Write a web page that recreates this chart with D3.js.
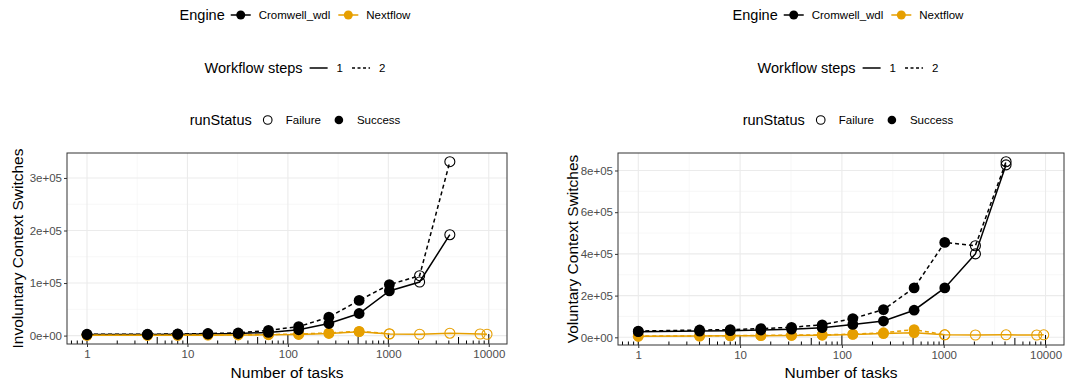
<!DOCTYPE html>
<html>
<head>
<meta charset="utf-8">
<script src="https://cdn.jsdelivr.net/npm/d3@7"></script>
<style>
  body { margin: 0; background: #fff; }
  svg { font-family: "Liberation Sans", Arial, sans-serif; }
</style>
</head>
<body>
<div id="chart"></div>
<script>
// x values (number of tasks)
const cromwellTasks = [1, 4, 8, 16, 32, 64, 128, 256, 512, 1024, 2048, 4096];
const cromwellStatus = ["Success", "Success", "Success", "Success", "Success", "Success", "Success", "Success", "Success", "Success", "Failure", "Failure"];
const nextflowTasks1 = [1, 4, 8, 16, 32, 64, 128, 256, 512, 1024, 2048, 4096, 8192, 9600];
const nextflowStatus1 = ["Success", "Success", "Success", "Success", "Success", "Success", "Success", "Success", "Success", "Failure", "Failure", "Failure", "Failure", "Failure"];
const nextflowTasks2 = [1, 4, 8, 16, 32, 64, 128, 256, 512, 1024];
const nextflowStatus2 = ["Success", "Success", "Success", "Success", "Success", "Success", "Success", "Success", "Success", "Failure"];

// involuntary context switches
const invCromwell1 = [2000, 2000, 2500, 3000, 4000, 6000, 11000, 23000, 42000, 85000, 102000, 192000];
const invCromwell2 = [2500, 2500, 3000, 4000, 5000, 10000, 17000, 35000, 67000, 97000, 114000, 331000];
const invNextflow1 = [500, 500, 500, 800, 1000, 1500, 2000, 4000, 7500, 3000, 2500, 4500, 3000, 2500];
const invNextflow2 = [800, 800, 900, 1200, 1500, 2000, 3000, 5000, 8000, 3500];

// voluntary context switches
const volCromwell1 = [27000, 30000, 32000, 35000, 39000, 46000, 62000, 78000, 130000, 237000, 400000, 827000];
const volCromwell2 = [30000, 35000, 37000, 42000, 48000, 60000, 90000, 133000, 237000, 455000, 439000, 842000];
const volNextflow1 = [5000, 6000, 7000, 8000, 9000, 10000, 14000, 18000, 22000, 12000, 11000, 12000, 11000, 12000];
const volNextflow2 = [6000, 7000, 8000, 9000, 10000, 12000, 15000, 22000, 37000, 12000];

const engines = ["Cromwell_wdl", "Nextflow"];
const stepLevels = ["1", "2"];
const statusLevels = ["Failure", "Success"];
const engineColor = d3.scaleOrdinal(engines, ["#000000", "#E69F00"]);

const xTicks = [1, 10, 100, 1000, 10000];
const invTicks = [0, 100000, 200000, 300000];
const volTicks = [0, 200000, 400000, 600000, 800000];

function series(engine, steps, xs, ys, st) {
  return { engine, steps, points: xs.map((x, i) => ({ x, y: ys[i], status: st[i] })) };
}

const invSeries = [
  series("Cromwell_wdl", "1", cromwellTasks, invCromwell1, cromwellStatus),
  series("Cromwell_wdl", "2", cromwellTasks, invCromwell2, cromwellStatus),
  series("Nextflow", "1", nextflowTasks1, invNextflow1, nextflowStatus1),
  series("Nextflow", "2", nextflowTasks2, invNextflow2, nextflowStatus2),
];
const volSeries = [
  series("Cromwell_wdl", "1", cromwellTasks, volCromwell1, cromwellStatus),
  series("Cromwell_wdl", "2", cromwellTasks, volCromwell2, cromwellStatus),
  series("Nextflow", "1", nextflowTasks1, volNextflow1, nextflowStatus1),
  series("Nextflow", "2", nextflowTasks2, volNextflow2, nextflowStatus2),
];

const W = 1074, H = 383;
const svg = d3.select("#chart").append("svg").attr("width", W).attr("height", H);

function sciFormat(v) {
  if (v === 0) return "0e+00";
  const [m, e] = v.toExponential(0).split("e");
  const n = +e;
  return m + "e" + (n < 0 ? "-" : "+") + String(Math.abs(n)).padStart(2, "0");
}

function expand(lo, hi) {
  const r = hi - lo;
  return [lo - 0.05 * r, hi + 0.05 * r];
}

function drawPanel(opts) {
  const { left, right, top, bottom, data, yTicks, yTitle, yTitleX } = opts;
  const g = svg.append("g");

  const allPts = data.flatMap((s) => s.points);
  const lx = d3.extent(allPts, (d) => Math.log10(d.x));
  const ly = d3.extent(allPts, (d) => d.y);
  const xd = expand(lx[0], lx[1]);
  const x = d3.scaleLog().domain([10 ** xd[0], 10 ** xd[1]]).range([left, right]);
  const y = d3.scaleLinear().domain(expand(ly[0], ly[1])).range([bottom, top]);

  // grid
  const grid = g.append("g");
  const yDom = y.domain();
  const yStep = yTicks[1] - yTicks[0];
  const yMinor = d3.range(yTicks[0] - yStep / 2, yDom[1], yStep).filter((v) => v > yDom[0]);
  const xMinor = xTicks.map((t) => t / Math.sqrt(10)).concat([xTicks[xTicks.length - 1] * Math.sqrt(10)])
    .filter((v) => v > x.domain()[0] && v < x.domain()[1]);
  grid.selectAll(".ymin").data(yMinor).join("line")
    .attr("x1", left).attr("x2", right)
    .attr("y1", (d) => y(d)).attr("y2", (d) => y(d))
    .attr("stroke", "#f2f2f2").attr("stroke-width", 0.6);
  grid.selectAll(".xmin").data(xMinor).join("line")
    .attr("y1", top).attr("y2", bottom)
    .attr("x1", (d) => x(d)).attr("x2", (d) => x(d))
    .attr("stroke", "#f2f2f2").attr("stroke-width", 0.6);
  grid.selectAll(".ymaj").data(yTicks).join("line")
    .attr("x1", left).attr("x2", right)
    .attr("y1", (d) => y(d)).attr("y2", (d) => y(d))
    .attr("stroke", "#ebebeb").attr("stroke-width", 1.1);
  grid.selectAll(".xmaj").data(xTicks).join("line")
    .attr("y1", top).attr("y2", bottom)
    .attr("x1", (d) => x(d)).attr("x2", (d) => x(d))
    .attr("stroke", "#ebebeb").attr("stroke-width", 1.1);

  // log ticks along the bottom
  const logTicks = [];
  for (let e = -1; e <= 4; e++) {
    for (let m = 1; m <= 9; m++) {
      const v = m * 10 ** e;
      if (v > x.domain()[0] && v < x.domain()[1]) logTicks.push({ v, m });
    }
  }
  g.append("g").selectAll("line").data(logTicks).join("line")
    .attr("x1", (d) => x(d.v)).attr("x2", (d) => x(d.v))
    .attr("y1", bottom)
    .attr("y2", (d) => bottom - (d.m === 1 ? 10 : d.m === 5 ? 7 : 3.5))
    .attr("stroke", "#000").attr("stroke-width", 1);

  // lines
  const line = d3.line().x((d) => x(d.x)).y((d) => y(d.y));
  g.append("g").selectAll("path").data(data).join("path")
    .attr("d", (d) => line(d.points))
    .attr("fill", "none")
    .attr("stroke", (d) => engineColor(d.engine))
    .attr("stroke-width", 1.5)
    .attr("stroke-dasharray", (d) => (d.steps === "2" ? "4,3" : null));

  // points: Nextflow first, Cromwell on top
  const ptData = data.slice().reverse().flatMap((s) => s.points.map((p) => ({ ...p, engine: s.engine })));
  g.append("g").selectAll("circle").data(ptData).join("circle")
    .attr("cx", (d) => x(d.x)).attr("cy", (d) => y(d.y))
    .attr("r", (d) => (d.status === "Success" ? 5.4 : 5))
    .attr("fill", (d) => (d.status === "Success" ? engineColor(d.engine) : "none"))
    .attr("stroke", (d) => engineColor(d.engine))
    .attr("stroke-width", (d) => (d.status === "Success" ? 0 : 1.1));

  // border
  g.append("rect").attr("x", left).attr("y", top)
    .attr("width", right - left).attr("height", bottom - top)
    .attr("fill", "none").attr("stroke", "#333333").attr("stroke-width", 1);

  // axes
  const xAxis = g.append("g").attr("transform", `translate(0,${bottom})`)
    .call(d3.axisBottom(x).tickValues(xTicks).tickFormat(d3.format("d")).tickSize(3).tickPadding(3));
  const yAxis = g.append("g").attr("transform", `translate(${left},0)`)
    .call(d3.axisLeft(y).tickValues(yTicks).tickFormat(sciFormat).tickSize(3).tickPadding(2));
  [xAxis, yAxis].forEach((a) => {
    a.select(".domain").remove();
    a.selectAll(".tick line").attr("stroke", "#333333");
    a.selectAll(".tick text").attr("fill", "#4d4d4d").attr("font-size", 11.5)
      .attr("font-family", "Liberation Sans, Arial, sans-serif");
  });

  g.append("text").attr("x", (left + right) / 2).attr("y", 378)
    .attr("text-anchor", "middle").attr("font-size", 15.5).text("Number of tasks");
  g.append("text")
    .attr("transform", `translate(${yTitleX},${(top + bottom) / 2}) rotate(-90)`)
    .attr("text-anchor", "middle").attr("dy", "0.35em").attr("font-size", 15.5).text(yTitle);
}

function drawLegend(cx) {
  const rows = [
    { title: "Engine", y: 15, items: engines.map((e) => ({ label: e, kind: "engine", v: e })) },
    { title: "Workflow steps", y: 68, items: stepLevels.map((s) => ({ label: s, kind: "steps", v: s })) },
    { title: "runStatus", y: 120, items: statusLevels.map((s) => ({ label: s, kind: "status", v: s })) },
  ];
  rows.forEach((row) => {
    const g = svg.append("g");
    let xPos = 0;
    const t = g.append("text").attr("x", 0).attr("y", row.y).attr("dy", "0.35em")
      .attr("font-size", 14.5).text(row.title);
    xPos += t.node().getComputedTextLength() + 6;
    row.items.forEach((it) => {
      const kx = xPos, kw = 20;
      if (it.kind === "engine") {
        g.append("line").attr("x1", kx).attr("x2", kx + kw).attr("y1", row.y).attr("y2", row.y)
          .attr("stroke", engineColor(it.v)).attr("stroke-width", 1.5);
        g.append("circle").attr("cx", kx + kw / 2).attr("cy", row.y).attr("r", 4.5)
          .attr("fill", engineColor(it.v));
      } else if (it.kind === "steps") {
        g.append("line").attr("x1", kx + 1).attr("x2", kx + kw - 1).attr("y1", row.y).attr("y2", row.y)
          .attr("stroke", "#000").attr("stroke-width", 1.5)
          .attr("stroke-dasharray", it.v === "2" ? "3,2.5" : null);
      } else {
        g.append("circle").attr("cx", kx + kw / 2).attr("cy", row.y).attr("r", 4.3)
          .attr("fill", it.v === "Success" ? "#000" : "none")
          .attr("stroke", "#000").attr("stroke-width", it.v === "Success" ? 0 : 1.1);
      }
      const lt = g.append("text").attr("x", kx + kw + 8).attr("y", row.y).attr("dy", "0.35em")
        .attr("font-size", 11.5).text(it.label);
      xPos = kx + kw + 8 + lt.node().getComputedTextLength() + 8;
    });
    const w = xPos - 8;
    g.attr("transform", `translate(${cx - w / 2},0)`);
  });
}

drawPanel({ left: 67, right: 507, top: 153, bottom: 344, data: invSeries, yTicks: invTicks, yTitle: "Involuntary Context Switches", yTitleX: 18 });
drawPanel({ left: 618, right: 1064, top: 153, bottom: 345, data: volSeries, yTicks: volTicks, yTitle: "Voluntary Context Switches", yTitleX: 573 });
drawLegend(295);
drawLegend(848);
</script>
</body>
</html>
